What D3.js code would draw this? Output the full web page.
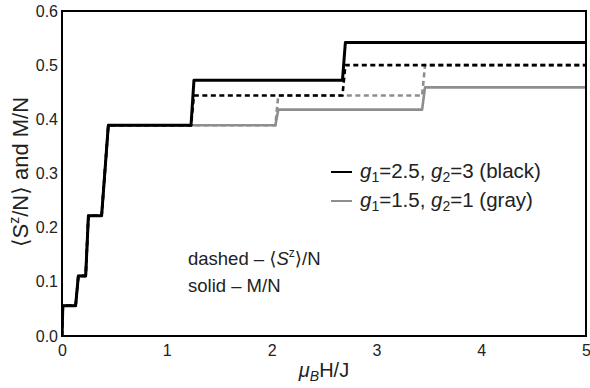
<!DOCTYPE html>
<html lang="en">
<head>
<meta charset="UTF-8">
<title>Magnetization steps</title>
<script src="https://cdn.jsdelivr.net/npm/d3@7"></script>
<style>
  body { margin: 0; background: #fff; }
  text { font-family: "Liberation Sans", Arial, "DejaVu Sans", sans-serif; fill: #222; }
</style>
</head>
<body>
<svg width="590" height="388"></svg>
<script>
// field values where the curves jump (in muB H / J) and half widths of the jumps
var lowSteps = [0.004, 0.143, 0.239, 0.41];
var lowHalfW = [0.004, 0.013, 0.013, 0.032];
var lowValues = [0.056, 0.111, 0.222, 0.389];

// black: g1=2.5, g2=3
var blackHighSteps = [1.245, 2.69];
var blackSolidHigh = [0.472, 0.542];
var blackDashedHigh = [0.444, 0.5];
// gray: g1=1.5, g2=1
var grayHighSteps = [2.05, 3.45];
var graySolidHigh = [0.418, 0.459];
var grayDashedHigh = [0.444, 0.5];
var highHalfW = 0.014;

var xTicks = [0, 1, 2, 3, 4, 5];
var yTicks = [0.0, 0.1, 0.2, 0.3, 0.4, 0.5, 0.6];

var svg = d3.select('svg');
var mLeft = 62, mRight = 586, mTop = 11, mBottom = 336;

var x = d3.scaleLinear().domain([0, 5]).range([mLeft, mRight]);
var y = d3.scaleLinear().domain([0, 0.6]).range([mBottom, mTop]);

// build a step curve from jump positions and plateau values
function stepPoints(steps, halfW, values) {
    var pts = [[0, 0]];
    var prev = 0;
    steps.forEach(function (h, i) {
        var w = halfW[i];
        pts.push([h - w, prev]);
        pts.push([h + w, values[i]]);
        prev = values[i];
    });
    pts.push([5, prev]);
    return pts;
}

function series(highSteps, highValues) {
    var hw = highSteps.map(function () { return highHalfW; });
    return stepPoints(lowSteps.concat(highSteps), lowHalfW.concat(hw), lowValues.concat(highValues));
}

var curves = [
    { pts: series(grayHighSteps, graySolidHigh), color: '#8e8e8e', width: 2.6, dash: null },
    { pts: series(grayHighSteps, grayDashedHigh), color: '#8e8e8e', width: 2.6, dash: '5,3.5' },
    { pts: series(blackHighSteps, blackSolidHigh), color: '#000', width: 3, dash: null },
    { pts: series(blackHighSteps, blackDashedHigh), color: '#000', width: 2.6, dash: '5,3.5' }
];

svg.append('clipPath').attr('id', 'clip')
    .append('rect').attr('x', mLeft).attr('y', mTop).attr('width', mRight - mLeft).attr('height', mBottom - mTop);

var line = d3.line()
    .x(function (d) { return x(d[0]); })
    .y(function (d) { return y(d[1]); });

svg.append('g').attr('clip-path', 'url(#clip)')
    .selectAll('path').data(curves).enter().append('path')
    .attr('d', function (d) { return line(d.pts); })
    .attr('fill', 'none')
    .attr('stroke', function (d) { return d.color; })
    .attr('stroke-width', function (d) { return d.width; })
    .attr('stroke-dasharray', function (d) { return d.dash; })
    .attr('stroke-linejoin', 'round');

// frame
svg.append('rect')
    .attr('x', mLeft).attr('y', mTop).attr('width', mRight - mLeft).attr('height', mBottom - mTop)
    .attr('fill', 'none').attr('stroke', '#000').attr('stroke-width', 2);

// axes (labels only)
var axisX = d3.axisBottom(x).tickValues(xTicks).tickFormat(d3.format('d')).tickSize(0).tickPadding(9);
var axisY = d3.axisLeft(y).tickValues(yTicks).tickFormat(d3.format('.1f')).tickSize(0).tickPadding(4);
var gx = svg.append('g').attr('transform', 'translate(0,' + mBottom + ')').call(axisX);
var gy = svg.append('g').attr('transform', 'translate(' + mLeft + ',0)').call(axisY);
[gx, gy].forEach(function (g) {
    g.select('.domain').remove();
    g.selectAll('text').style('font-size', '16px').style('font-family', '"Liberation Sans", Arial, sans-serif').attr('fill', '#222');
});

// axis titles
var xt = svg.append('text').attr('x', x(2.5)).attr('y', 377).attr('text-anchor', 'middle').style('font-size', '20px');
xt.append('tspan').style('font-style', 'italic').text('\u03bc');
xt.append('tspan').style('font-style', 'italic').style('font-size', '14px').attr('dy', 4).text('B');
xt.append('tspan').attr('dy', -4).text('H/J');

var yt = svg.append('text').attr('transform', 'translate(28,172) rotate(-90)')
    .attr('text-anchor', 'middle').style('font-size', '22px');
yt.append('tspan').text('\u27e8S');
yt.append('tspan').style('font-size', '14px').attr('dy', -9).text('z');
yt.append('tspan').attr('dy', 9).text('/N\u27e9 and M/N');

// legend
var legend = [
    { g1: '2.5', g2: '3', name: 'black', color: '#000', y: 178 },
    { g1: '1.5', g2: '1', name: 'gray', color: '#8e8e8e', y: 207 }
];
legend.forEach(function (d) {
    svg.append('line').attr('x1', 331).attr('x2', 352).attr('y1', d.y - 6).attr('y2', d.y - 6)
        .attr('stroke', d.color).attr('stroke-width', 2);
    var t = svg.append('text').attr('x', 360).attr('y', d.y).style('font-size', '20.5px');
    t.append('tspan').style('font-style', 'italic').text('g');
    t.append('tspan').style('font-size', '14px').attr('dy', 4).text('1');
    t.append('tspan').attr('dy', -4).text('=' + d.g1 + ', ');
    t.append('tspan').style('font-style', 'italic').text('g');
    t.append('tspan').style('font-size', '14px').attr('dy', 4).text('2');
    t.append('tspan').attr('dy', -4).text('=' + d.g2 + ' (' + d.name + ')');
});

// annotation
var a1 = svg.append('text').attr('x', 188).attr('y', 265).style('font-size', '18.5px');
a1.append('tspan').text('dashed \u2013 \u27e8');
a1.append('tspan').style('font-style', 'italic').text('S');
a1.append('tspan').style('font-size', '12px').attr('dy', -8).text('z');
a1.append('tspan').attr('dy', 8).text('\u27e9/N');
svg.append('text').attr('x', 188).attr('y', 292).style('font-size', '18.5px').text('solid \u2013 M/N');
</script>
</body>
</html>
